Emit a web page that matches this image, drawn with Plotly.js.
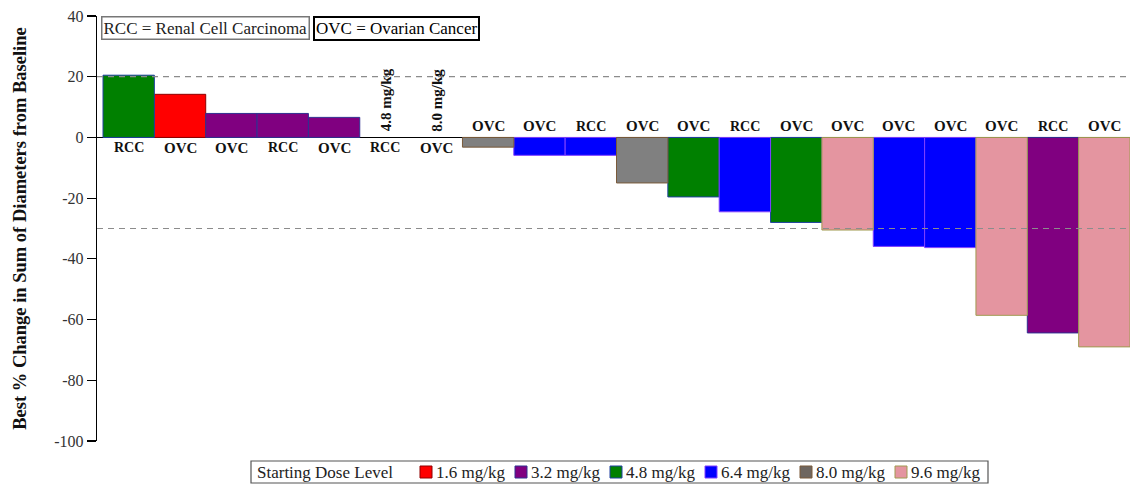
<!DOCTYPE html>
<html>
<head>
<meta charset="utf-8">
<script src="https://cdn.plot.ly/plotly-3.0.1.min.js"></script>
<style>html,body{margin:0;padding:0;background:#fff;}#chart{width:1130px;height:484px;}</style>
</head>
<body>
<div id="chart"></div>
<script>
// Data (one entry per patient, in plotted order)
const tumorTypes = ["RCC","OVC","OVC","RCC","OVC","RCC","OVC","OVC","OVC","RCC","OVC","OVC","RCC","OVC","OVC","OVC","OVC","OVC","RCC","OVC"];
const doseLevels = ["4.8 mg/kg","1.6 mg/kg","3.2 mg/kg","3.2 mg/kg","3.2 mg/kg","4.8 mg/kg","8.0 mg/kg","8.0 mg/kg","6.4 mg/kg","6.4 mg/kg","8.0 mg/kg","4.8 mg/kg","6.4 mg/kg","4.8 mg/kg","9.6 mg/kg","6.4 mg/kg","6.4 mg/kg","9.6 mg/kg","3.2 mg/kg","9.6 mg/kg"];
const bestChange = [20.5, 14.2, 7.9, 7.9, 6.6, 0, 0, -3.2, -5.9, -5.9, -15.0, -19.6, -24.5, -28.0, -30.5, -35.9, -36.3, -58.6, -64.4, -69.0];
const legendDoses = ["1.6 mg/kg","3.2 mg/kg","4.8 mg/kg","6.4 mg/kg","8.0 mg/kg","9.6 mg/kg"];
const legendTitle = "Starting Dose Level";
const doseColors = ["#ff0000","#800080","#008000","#0000ff","#808080","#e495a0"];
const doseOutline = ["#900000","#303090","#2040a0","#8040ff","#7a5a3a","#a09a50"];
const legendSwatch = ["#ff0000","#800080","#008000","#0000ff","#6e6660","#e495a0"];
const refLines = [20, -30];
const yTicks = [40, 20, 0, -20, -40, -60, -80, -100];

const serif = 'Liberation Serif, Times New Roman, serif';

// pixel geometry of the plot area (for placing layout-level items)
const W = 1130, H = 484, ML = 97, MR = 0, MT = 16, MB = 43;
const PW = W - ML - MR, PH = H - MT - MB;
const px = x => (x - ML) / PW;
const py = y => (H - MB - y) / PH;

const traces = legendDoses.map((d, k) => {
  const xs = [], ys = [], lw = [];
  bestChange.forEach((v, i) => { if (doseLevels[i] === d) { xs.push(i); ys.push(v); lw.push(v === 0 ? 0 : 1); } });
  return {
    type: 'bar', name: d, x: xs, y: ys, width: 1,
    marker: {color: doseColors[k], line: {color: doseOutline[k], width: lw}},
    hoverinfo: 'skip', showlegend: false
  };
});

const annotations = [];
const shapes = [];
bestChange.forEach((v, i) => {
  const neg = v < 0;
  const isR = tumorTypes[i] === 'RCC';
  annotations.push({
    x: i, y: 0, xref: 'x', yref: 'y', text: '<b>' + tumorTypes[i] + '</b>', showarrow: false,
    yanchor: neg ? 'bottom' : 'top', yshift: neg ? 1 : -1,
    font: {family: serif, size: isR ? 14 : 15, color: '#111'}
  });
  if (v === 0) {
    annotations.push({
      x: i, y: 0, xref: 'x', yref: 'y', text: '<b>' + doseLevels[i] + '</b>', showarrow: false,
      textangle: -90, yanchor: 'bottom', yshift: 4,
      font: {family: serif, size: 15, color: '#111'}
    });
  }
});
annotations.push({
  xref: 'paper', yref: 'paper', x: px(101), y: 1, xanchor: 'left', yanchor: 'top',
  text: 'RCC = Renal Cell Carcinoma', showarrow: false, bordercolor: '#777', borderwidth: 1.5,
  borderpad: 1, bgcolor: '#fff', font: {family: serif, size: 17, color: '#222'}
});
annotations.push({
  xref: 'paper', yref: 'paper', x: px(313), y: 1, xanchor: 'left', yanchor: 'top',
  text: 'OVC = Ovarian Cancer', showarrow: false, bordercolor: '#000', borderwidth: 2,
  borderpad: 1, bgcolor: '#fff', font: {family: serif, size: 17, color: '#000'}
});

refLines.forEach(v => shapes.push({
  type: 'line', xref: 'paper', yref: 'y', x0: 0, x1: 1, y0: v, y1: v, layer: 'above',
  line: {color: '#8c8c8c', width: 1.2, dash: '6px,5px'}
}));

// dose-level key at the bottom
const keyTop = 461, keyBot = 483, keyMid = 472;
shapes.push({type: 'rect', xref: 'paper', yref: 'paper', x0: px(251), x1: px(988), y0: py(keyBot), y1: py(keyTop),
  line: {color: '#555', width: 1.2}, fillcolor: 'rgba(0,0,0,0)'});
annotations.push({xref: 'paper', yref: 'paper', x: px(255), y: py(keyMid), xanchor: 'left', yanchor: 'middle',
  text: legendTitle, showarrow: false, font: {family: serif, size: 17, color: '#222'}});
legendDoses.forEach((d, k) => {
  const cx = 426 + 95 * k;
  shapes.push({type: 'rect', xref: 'paper', yref: 'paper', x0: px(cx - 6), x1: px(cx + 6), y0: py(keyMid + 6), y1: py(keyMid - 6),
    line: {color: doseOutline[k], width: 1}, fillcolor: legendSwatch[k]});
  annotations.push({xref: 'paper', yref: 'paper', x: px(cx + 8), y: py(keyMid), xanchor: 'left', yanchor: 'middle',
    text: d, showarrow: false, font: {family: serif, size: 17, color: '#222'}});
});

const layout = {
  width: W, height: H,
  margin: {l: ML, r: MR, t: MT, b: MB},
  paper_bgcolor: '#fff', plot_bgcolor: '#fff',
  barmode: 'overlay', bargap: 0,
  font: {family: serif, color: '#333'},
  xaxis: {range: [-0.617, 19.5], showticklabels: false, showgrid: false, zeroline: false, ticks: '', showline: false, automargin: false},
  yaxis: {
    range: [-100, 40], tickvals: yTicks, ticktext: yTicks.map(String), automargin: false,
    showgrid: false, zeroline: true, zerolinecolor: '#000', zerolinewidth: 1.5,
    showline: true, linecolor: '#000', linewidth: 1.2, ticks: 'outside', ticklen: 9, tickcolor: '#000', tickwidth: 1.2,
    tickfont: {family: serif, size: 16, color: '#333'},
    title: {text: '<b>Best % Change in Sum of Diameters from Baseline</b>', font: {family: serif, size: 18.5, color: '#111'}, standoff: 22}
  },
  showlegend: false,
  annotations: annotations,
  shapes: shapes
};

Plotly.newPlot('chart', traces, layout, {displayModeBar: false, staticPlot: true});
</script>
</body>
</html>
